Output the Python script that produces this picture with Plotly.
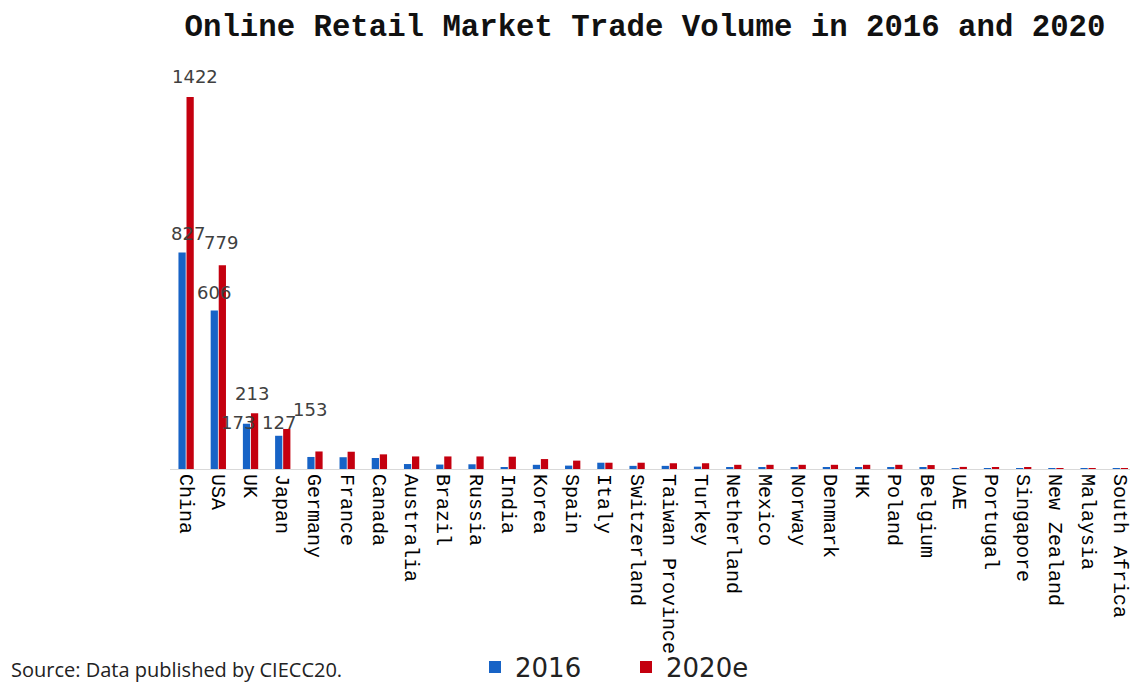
import plotly.graph_objects as go

# Online retail trade volume by market
countries = [
    "China", "USA", "UK", "Japan", "Germany", "France", "Canada", "Australia",
    "Brazil", "Russia", "India", "Korea", "Spain", "Italy", "Switzerland",
    "Taiwan Province", "Turkey", "Netherland", "Mexico", "Norway", "Denmark",
    "HK", "Poland", "Belgium", "UAE", "Portugal", "Singapore", "New Zealand",
    "Malaysia", "South Africa",
]
vol_2016 = [827, 606, 173, 127, 46, 45, 42, 19, 17, 18, 5, 16, 13, 24, 12,
            12, 9, 6, 6, 6, 5, 5, 7, 4, 3, 2, 2, 1, 1, 1]
vol_2020 = [1422, 779, 213, 153, 67, 66, 56, 48, 48, 48, 47, 38, 32, 24, 24,
            22, 22, 16, 16, 16, 16, 16, 16, 15, 8, 4, 4, 1, 1, 1]

# only the four largest markets carry value labels
labeled = 4
# per-label nudges (px) so the crowded labels stay readable
dx_2016 = [6, 0, -9, 0]
dy_2016 = [7, 5, -11, 1]
dx_2020 = [5, -1, -3, 23]
dy_2020 = [8, 10, 7, 7]

BLUE = "#1763c6"
RED = "#c4000f"
bar_shift = 4  # half the spacing between paired bars, px

W, H = 1130, 685
ML, MR, MT, MB = 170, 0, 60, 216
plot_w = W - ML - MR
plot_h = H - MT - MB


def px_to_paper(px, py):
    """Convert a page pixel position to paper coordinates."""
    return (px - ML) / plot_w, (H - MB - py) / plot_h


fig = go.Figure()
fig.add_trace(go.Bar(x=countries, y=vol_2016, name="2016",
                     marker=dict(color=BLUE, line=dict(width=0))))
fig.add_trace(go.Bar(x=countries, y=vol_2020, name="2020e",
                     marker=dict(color=RED, line=dict(width=0))))

label_font = dict(family="DejaVu Sans", size=18, color="#404040")
for i in range(labeled):
    fig.add_annotation(x=countries[i], y=vol_2016[i], text=str(vol_2016[i]),
                       showarrow=False, yanchor="bottom",
                       xshift=-bar_shift + dx_2016[i], yshift=dy_2016[i],
                       font=label_font)
    fig.add_annotation(x=countries[i], y=vol_2020[i], text=str(vol_2020[i]),
                       showarrow=False, yanchor="bottom",
                       xshift=bar_shift + dx_2020[i], yshift=dy_2020[i],
                       font=label_font)

sx, sy = px_to_paper(10, 684)
fig.add_annotation(text="Source: Data published by CIECC20.",
                   xref="paper", yref="paper", x=sx, y=sy,
                   xanchor="left", yanchor="bottom", showarrow=False,
                   borderpad=0,
                   font=dict(family="Open Sans", size=20, color="#222222"))

tx, _ = px_to_paper(645, 0)
fig.update_layout(
    width=W, height=H,
    margin=dict(l=ML, r=MR, t=MT, b=MB, autoexpand=False),
    paper_bgcolor="white", plot_bgcolor="white",
    barmode="group", bargap=0.5, bargroupgap=0.1,
    title=dict(text="<b>Online Retail Market Trade Volume in 2016 and 2020</b>",
               x=tx, xref="paper", xanchor="center",
               y=1 - 25 / H, yref="container", yanchor="middle",
               font=dict(family="Liberation Mono", size=30.7, color="#111111")),
    xaxis=dict(tickangle=90, tickfont=dict(family="Liberation Mono", size=20, color="black"),
               showline=True, linecolor="#d9d9d9", linewidth=1, ticks="",
               showgrid=False, range=[-0.5, 29.3], automargin=False),
    yaxis=dict(visible=False, range=[0, 1563], showgrid=False, zeroline=False),
    legend=dict(orientation="h", xref="container", yref="container",
                x=475 / W, y=1 - 667 / H, xanchor="left", yanchor="middle",
                entrywidth=106, entrywidthmode="pixels", itemwidth=30,
                font=dict(family="DejaVu Sans", size=26, color="#222222"),
                bgcolor="rgba(0,0,0,0)"),
)

fig.write_html("out.html")
